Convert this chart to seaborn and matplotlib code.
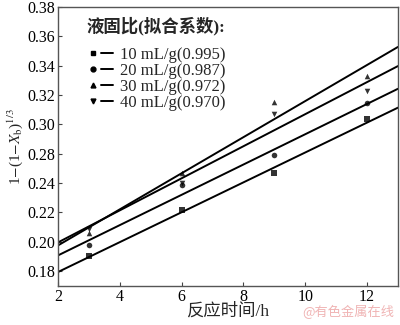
import matplotlib
matplotlib.use("Agg")
import matplotlib.pyplot as plt
import seaborn as sns
import pandas as pd
from matplotlib.lines import Line2D
from matplotlib.legend_handler import HandlerTuple

sns.set_theme(style="ticks")
plt.rcParams['font.family'] = ['Liberation Serif', 'Noto Sans CJK SC']
plt.rcParams['mathtext.fontset'] = 'stix'

# data
time_h = [3, 6, 9, 12]
y_10 = [0.210, 0.2414, 0.2667, 0.3035]
y_20 = [0.218, 0.2585, 0.279, 0.3145]
y_30 = [0.226, 0.2667, 0.315, 0.333]
y_40 = [0.229, 0.260, 0.307, 0.3227]
series_labels = ["10 mL/g(0.995)", "20 mL/g(0.987)", "30 mL/g(0.972)", "40 mL/g(0.970)"]
series_markers = ["s", "o", "^", "v"]
tick_pos = [0.20, 0.22, 0.24, 0.26, 0.28, 0.30, 0.32, 0.34, 0.36, 0.38]
tick_labels = ["0.18", "0.20", "0.22", "0.24", "0.28", "0.30", "0.32", "0.34", "0.36", "0.38"]
x_ticks = [2, 4, 6, 8, 10, 12]

df = pd.DataFrame({"t": time_h * 4,
                   "y": y_10 + y_20 + y_30 + y_40,
                   "s": sum([[l] * 4 for l in series_labels], [])})

fig = plt.figure(figsize=(4, 3.25), dpi=100)
ax = fig.add_axes([0.145, 0.12, 0.85, 0.858])
ax.set_xlim(2, 13)
ax.set_ylim(0.1898, 0.38)

handles = []
for lab, mk in zip(series_labels, series_markers):
    sub = df[df.s == lab]
    sns.regplot(data=sub, x="t", y="y", ax=ax, ci=None, truncate=False,
                marker=mk, color="black",
                scatter_kws=dict(s=16, linewidths=0),
                line_kws=dict(lw=1.4))
    handles.append((Line2D([], [], marker=mk, ls="none", color="black", ms=3.5),
                    Line2D([], [], color="black", lw=1.4)))

ax.set_xlim(2, 13)
ax.set_ylim(0.1898, 0.38)
ax.set_xticks(x_ticks)
ax.set_xticklabels([str(v) for v in x_ticks])
ax.set_yticks(tick_pos)
ax.set_yticklabels(tick_labels)
ax.tick_params(direction="in", length=3, width=0.8, labelsize=11.5, color="#444444",
               labelcolor="black", pad=2)
for sp in ax.spines.values():
    sp.set_color("#555555")
    sp.set_linewidth(1.0)

ax.set_xlabel("反应时间/h", fontsize=12.5, labelpad=-1)
ax.set_ylabel(r"1$-$(1$-$$X_\mathrm{b}$)$^{1/3}$", fontsize=11, labelpad=2)

leg = ax.legend(handles, series_labels, handler_map={tuple: HandlerTuple(ndivide=None, pad=0.15)},
                title="液固比(拟合系数):", loc="upper left", bbox_to_anchor=(0.055, 1.0),
                frameon=False, fontsize=12, handlelength=1.6, handletextpad=0.4,
                labelspacing=0.0, borderaxespad=0.2, alignment="left")
leg.get_title().set_fontsize(12.5)
leg.get_title().set_fontweight("bold")
leg._legend_box.sep = 8

fig.text(0.985, 0.04, "@有色金属在线", color="#f0b4b4", fontsize=9.5, ha="right", va="center",
         family=["Noto Sans CJK SC"])

fig.savefig("out.png", dpi=100)
